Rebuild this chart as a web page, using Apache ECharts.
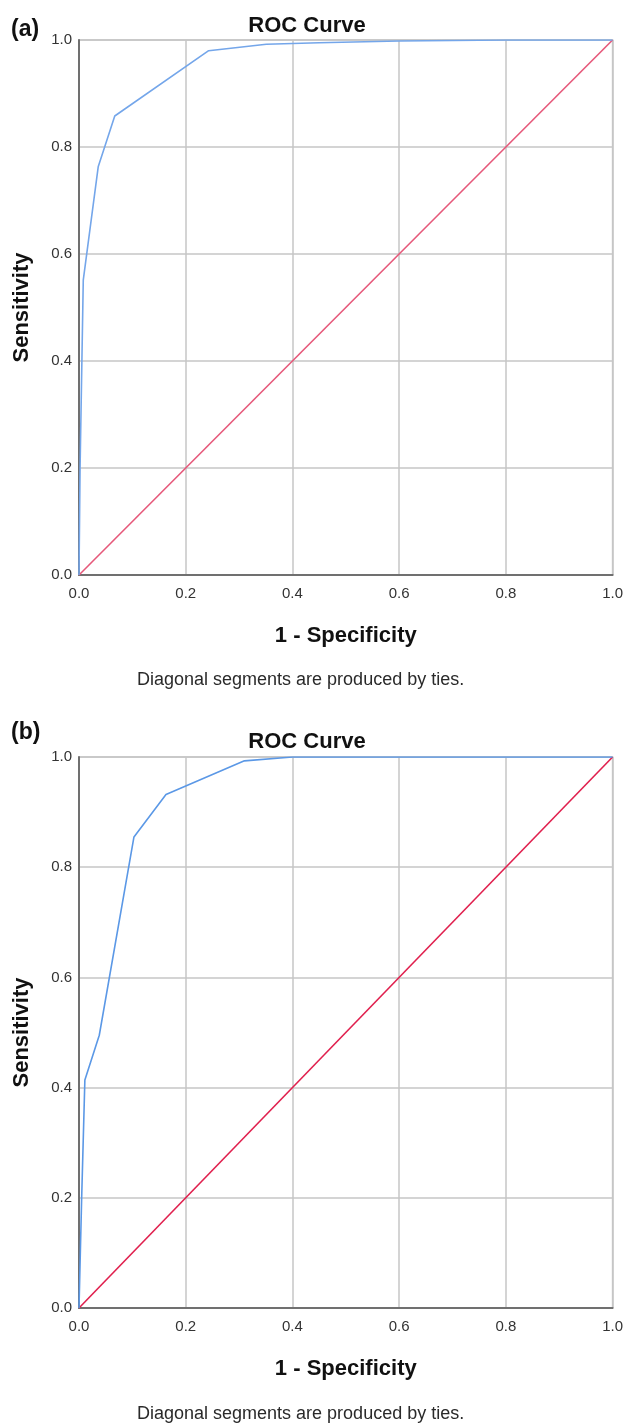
<!DOCTYPE html>
<html><head><meta charset="utf-8">
<script src="https://cdn.jsdelivr.net/npm/echarts@6/dist/echarts.min.js"></script>
<style>html,body{margin:0;padding:0;background:#fff}#c{width:626px;height:1425px}</style>
</head><body><div id="c"></div>
<script>
const tickLabels = [0, 0.2, 0.4, 0.6, 0.8, 1.0];
const rocA_fpr  = [0, 0.002, 0.008, 0.036, 0.067, 0.243, 0.351, 0.45, 0.6, 0.8, 1.0];
const rocA_tpr  = [0, 0.2, 0.551, 0.763, 0.858, 0.980, 0.992, 0.995, 0.998, 1.0, 1.0];
const rocB_fpr  = [0, 0.005, 0.011, 0.038, 0.103, 0.163, 0.310, 0.40, 1.0];
const rocB_tpr  = [0, 0.2, 0.414, 0.495, 0.855, 0.932, 0.993, 1.0, 1.0];
const refLine   = [[0, 0], [1, 1]];
const panelLabels = ['(a)', '(b)'];
const titleText = 'ROC Curve';
const xName = '1 - Specificity';
const yName = 'Sensitivity';
const footnote = 'Diagonal segments are produced by ties.';

const FONT = '"Liberation Sans", Arial, sans-serif';
const zip = (a, b) => a.map((v, i) => [v, b[i]]);

const grids = [
  {left: 79, top: 40, width: 535, height: 535},
  {left: 79, top: 757, width: 535, height: 551}
];
function mkX(i) {
  return {
    type: 'value', gridIndex: i, min: 0, max: 1, interval: 0.2,
    name: xName, nameLocation: 'middle', nameGap: 50,
    nameTextStyle: {fontFamily: FONT, fontWeight: 'bold', fontSize: 22, color: '#111'},
    axisLine: {show: true, lineStyle: {color: '#707070', width: 2}},
    axisTick: {show: false},
    axisLabel: {margin: 11, fontFamily: FONT, fontSize: 15, color: '#333', formatter: v => v.toFixed(1)},
    splitLine: {show: true, lineStyle: {color: '#c6c6c6', width: 1.5}}
  };
}
function mkY(i) {
  return {
    type: 'value', gridIndex: i, min: 0, max: 1, interval: 0.2,
    name: yName, nameLocation: 'middle', nameGap: 46,
    nameTextStyle: {fontFamily: FONT, fontWeight: 'bold', fontSize: 22, color: '#111'},
    axisLine: {show: true, lineStyle: {color: '#707070', width: 2}},
    axisTick: {show: false},
    axisLabel: {margin: 7, fontFamily: FONT, fontSize: 15, color: '#333', formatter: v => v.toFixed(1)},
    splitLine: {show: true, lineStyle: {color: '#c6c6c6', width: 1.5}}
  };
}
const chart = echarts.init(document.getElementById('c'), null, {renderer: 'canvas'});
chart.setOption({
  backgroundColor: '#fff',
  animation: false,
  title: [
    {text: titleText, left: 302, top: 10, textAlign: 'center', textStyle: {fontFamily: FONT, fontSize: 22, fontWeight: 'bold', color: '#111'}},
    {text: titleText, left: 302, top: 726, textAlign: 'center', textStyle: {fontFamily: FONT, fontSize: 22, fontWeight: 'bold', color: '#111'}},
    {text: panelLabels[0], left: 11, top: 18, padding: 0, textStyle: {fontFamily: FONT, fontSize: 23, fontWeight: 'bold', color: '#111'}},
    {text: panelLabels[1], left: 11, top: 721, padding: 0, textStyle: {fontFamily: FONT, fontSize: 23, fontWeight: 'bold', color: '#111'}},
    {text: footnote, left: 137, top: 671, padding: 0, textStyle: {fontFamily: FONT, fontSize: 18, fontWeight: 'normal', color: '#2a2a2a'}},
    {text: footnote, left: 137, top: 1405, padding: 0, textStyle: {fontFamily: FONT, fontSize: 18, fontWeight: 'normal', color: '#2a2a2a'}}
  ],
  grid: grids.map(g => Object.assign({show: true, borderColor: '#c6c6c6', borderWidth: 1.5, backgroundColor: '#fff'}, g)),
  xAxis: [mkX(0), mkX(1)],
  yAxis: [mkY(0), mkY(1)],
  series: [
    {type: 'line', xAxisIndex: 0, yAxisIndex: 0, data: refLine, symbol: 'none', lineStyle: {color: '#e6587a', width: 1.6}},
    {type: 'line', xAxisIndex: 0, yAxisIndex: 0, data: zip(rocA_fpr, rocA_tpr), symbol: 'none', lineStyle: {color: '#74a6ea', width: 1.6}},
    {type: 'line', xAxisIndex: 1, yAxisIndex: 1, data: refLine, symbol: 'none', lineStyle: {color: '#e0204e', width: 1.6}},
    {type: 'line', xAxisIndex: 1, yAxisIndex: 1, data: zip(rocB_fpr, rocB_tpr), symbol: 'none', lineStyle: {color: '#5b98e6', width: 1.6}}
  ]
});
</script></body></html>
